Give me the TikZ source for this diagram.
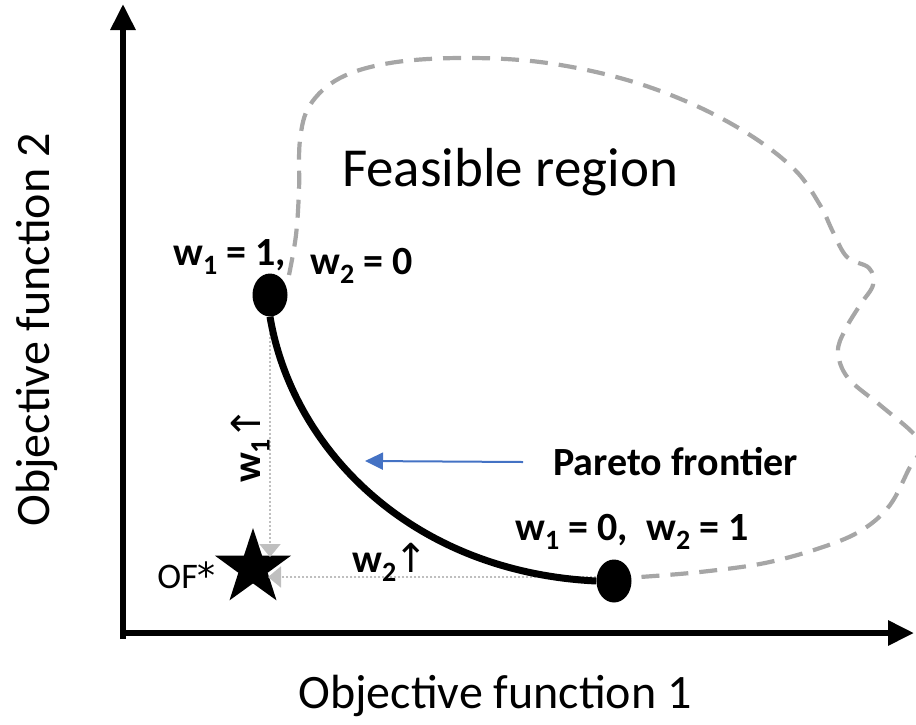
\documentclass[tikz,border=0pt]{standalone}
\usepackage{fontspec}
\setmainfont{Carlito}
\newfontfamily\arrfont{DejaVu Sans}
\usetikzlibrary{arrows.meta,shapes.geometric}
\definecolor{feasgray}{HTML}{A6A6A6}
\definecolor{dotgray}{HTML}{BFBFBF}
\definecolor{pblue}{HTML}{4472C4}
\begin{document}
\begin{tikzpicture}[x=1pt,y=-1pt,
  axis/.style={line width=6pt,-{Triangle[length=26pt,width=24pt]}},
  dotnode/.style={ellipse,fill=black,minimum width=35pt,minimum height=43pt,inner sep=0pt},
  wlbl/.style={font=\fontsize{40}{44}\selectfont\bfseries,inner sep=0pt,anchor=base west},
  axlbl/.style={font=\fontsize{48}{52}\selectfont,inner sep=0pt},
  feas/.style={draw=feasgray,line width=4.2pt,dash pattern=on 18pt off 11pt},
  guide/.style={draw=dotgray,line width=2pt,dash pattern=on 2pt off 2pt,-{Triangle[length=13pt,width=21pt,fill=dotgray]}},
  front/.style={line width=7pt},
  parrow/.style={draw=pblue,line width=2pt,-{Triangle[length=18pt,width=17pt,fill=pblue]}}
]
\useasboundingbox (0,0) rectangle (916,724);

% feasible region boundary
\draw[feas] plot[smooth,tension=0.6] coordinates {
  (289,275) (296,235) (299,190) (300,140) (310,105) (340,78) (390,63) (460,58)
  (540,62) (620,78) (690,103) (750,135) (795,170) (820,205) (833,232) (847,257)
  (869,268) (873,285) (860,305) (845,330) (838,352) (848,378) (880,405) (912,432)
  (922,448) (910,467) (890,505) (862,530) (823,547) (765,563) (700,572) (640,577)};

% axes
\coordinate (origin) at (123,636);
\coordinate (ytip) at (123,4);
\coordinate (xtip) at (914,633);
\draw[axis] ([yshift=-3pt]origin) -- (ytip);
\draw[axis] (120,633) -- (xtip);

% nodes
\node[dotnode] (top) at (270,295) {};
\node[dotnode] (bot) at (614,581) {};
\node[star,star points=5,star point ratio=2.6,fill=black,minimum size=80pt,inner sep=0pt] (star) at (253,568) {};

% guides
\coordinate (vtip) at (270,557);
\coordinate (htip) at (268,577);
\draw[guide] (top.south) -- (vtip);
\draw[guide] (bot.west |- htip) -- (htip);

% Pareto frontier
\draw[front] (top.south) .. controls (292,448) and (410,572) .. (bot.west);

% labels
\node[font=\fontsize{55}{60}\selectfont,inner sep=0pt] (feasible) at (510,172) {Feasible region};
\node[wlbl] (w1a) at (173,265) {w\textsubscript{1} = 1,};
\node[wlbl] (w2a) at (310,274) {w\textsubscript{2} = 0};
\node[wlbl] (wb) at (515,540) {w\textsubscript{1} = 0,\ \ w\textsubscript{2} = 1};
\node[wlbl] (pf) at (553,475) {Pareto frontier};
\node[wlbl] (w2up) at (352,572) {w\textsubscript{2}\kern-2pt{\arrfont\mdseries ↑}};
\node[wlbl,rotate=90] (w1up) at (260,483) {w\textsubscript{1}\kern-2pt{\arrfont\mdseries ↑}};
\node[font=\fontsize{36}{40}\selectfont,inner sep=0pt,anchor=base east] (of) at (216,588) {OF{\arrfont *}};

\coordinate (pstart) at (523,462);
\coordinate (ptip) at (365,461);
\draw[parrow] (pstart) -- (ptip);

\node[axlbl] (xlab) at (495,696) {Objective function 1};
\node[axlbl,rotate=90] (ylab) at (37,330) {Objective function 2};
\end{tikzpicture}
\end{document}
